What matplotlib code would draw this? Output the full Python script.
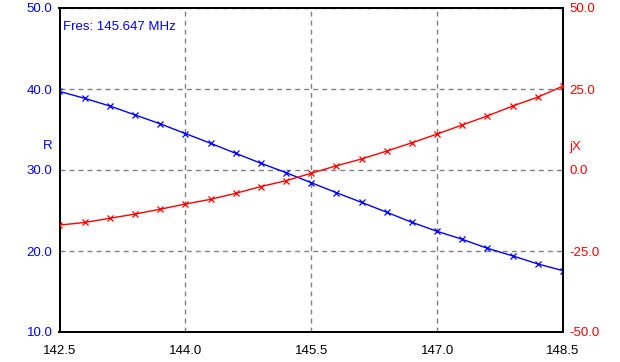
import matplotlib
matplotlib.use("Agg")
import matplotlib.pyplot as plt
import numpy as np

plt.rcParams['font.family'] = ['Liberation Sans', 'DejaVu Sans']

freq = [142.5, 142.8, 143.1, 143.4, 143.7, 144.0, 144.3, 144.6, 144.9, 145.2, 145.5,
        145.8, 146.1, 146.4, 146.7, 147.0, 147.3, 147.6, 147.9, 148.2, 148.5]
r_vals = [39.7, 38.85, 37.9, 36.8, 35.7, 34.5, 33.3, 32.06, 30.83, 29.67, 28.43,
          27.2, 26.0, 24.78, 23.54, 22.43, 21.44, 20.33, 19.4, 18.4, 17.57]
jx_vals = [-17.0, -16.2, -14.9, -13.6, -12.1, -10.5, -9.05, -7.2, -5.1, -3.3, -1.0,
           1.3, 3.4, 5.86, 8.4, 11.1, 13.9, 16.7, 19.75, 22.5, 25.9]
x_ticks = [142.5, 144.0, 145.5, 147.0, 148.5]
r_ticks = [10, 20, 30, 40, 50]
jx_ticks = [-50, -25, 0, 25, 50]
title_text = "Fres: 145.647 MHz"

FS = 9.5

fig = plt.figure(figsize=(6.2, 3.62), dpi=100)
ax = fig.add_axes([59.5/620, 1 - 332/362, (563-59.5)/620, (332-8)/362])
ax2 = ax.twinx()

ax.plot(freq, r_vals, color='#0000ff', lw=1.0, marker='x', ms=4.5, mew=0.9, zorder=3)
ax2.plot(freq, jx_vals, color='#ff0000', lw=1.0, marker='x', ms=4.5, mew=0.9, zorder=3)

ax.set_xlim(142.5, 148.5)
ax.set_ylim(10, 50)
ax2.set_ylim(-50, 50)
ax.set_xticks(x_ticks)
ax.set_xticklabels([f"{v:.1f}" for v in x_ticks], fontsize=FS, color='black')
ax.set_yticks(r_ticks)
ax.set_yticklabels([f"{v:.1f}" for v in r_ticks], fontsize=FS, color='#0000ff')
ax2.set_yticks(jx_ticks)
ax2.set_yticklabels([f"{v:.1f}" for v in jx_ticks], fontsize=FS, color='#ff0000')

ax.tick_params(axis='x', length=0, pad=9)
ax.tick_params(axis='y', length=0, pad=5)
ax2.tick_params(axis='y', length=0, pad=4.5)

ax.grid(True, color='#808080', linestyle=(0, (3.5, 3)), linewidth=1.0)
for sp in list(ax.spines.values()) + list(ax2.spines.values()):
    sp.set_linewidth(1.3)
    sp.set_color('black')

ax.text(0.006, 0.96, title_text, transform=ax.transAxes, color='#0000ff',
        fontsize=FS, ha='left', va='top')
fig.text(48/620, 1 - 146/362, "R", color='#0000ff', fontsize=FS, ha='center', va='center')
fig.text(575/620, 1 - 147/362, "jX", color='#ff0000', fontsize=FS, ha='center', va='center')

fig.savefig("out.png", dpi=100)
